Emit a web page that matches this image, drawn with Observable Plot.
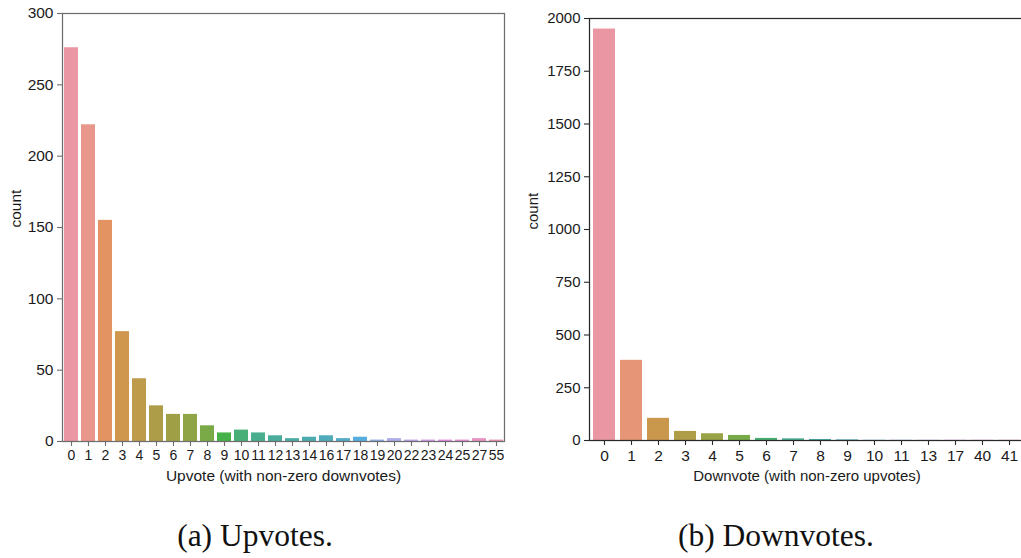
<!DOCTYPE html>
<html>
<head>
<meta charset="utf-8">
<script src="https://cdn.jsdelivr.net/npm/d3@7"></script>
<script src="https://cdn.jsdelivr.net/npm/@observablehq/plot@0.6"></script>
<style>
  html, body { margin: 0; padding: 0; background: #fff; }
  body { width: 1021px; height: 558px; overflow: hidden; position: relative; }
  .panel { position: absolute; top: 0; width: 520px; height: 500px; }
  .panel svg { max-width: none !important; }
  .cap { position: absolute; font-family: "Liberation Serif", "Times New Roman", serif; font-size: 31.5px; color: #111; white-space: nowrap; transform: translate(-50%, -50%); }
</style>
</head>
<body>
<div id="left" class="panel" style="left:0px"></div>
<div id="right" class="panel" style="left:520px"></div>
<div class="cap" style="left:255px; top:536px">(a) Upvotes.</div>
<div class="cap" style="left:776px; top:536px">(b) Downvotes.</div>
<script>
// ---------- data ----------
const upCategories = ["0","1","2","3","4","5","6","7","8","9","10","11","12","13","14","16","17","18","19","20","22","23","24","25","27","55"];
const upCounts     = [276, 222, 155, 77, 44, 25, 19, 19, 11, 6, 8, 6, 4, 2, 3, 4, 2, 3, 1, 2, 1, 1, 1, 1, 2, 1];
const upTicks      = [0, 50, 100, 150, 200, 250, 300];

const downCategories = ["0","1","2","3","4","5","6","7","8","9","10","11","13","17","40","41"];
const downCounts     = [1950, 380, 105, 43, 32, 24, 10, 8, 5, 3, 1, 1, 1, 1, 1, 1];
const downTicks      = [0, 250, 500, 750, 1000, 1250, 1500, 1750, 2000];

// ---------- seaborn husl palette (h=.01, s=.9, l=.7), desaturated 0.75 ----------
const M = [[3.2406, -1.5372, -0.4986], [-0.9689, 1.8758, 0.0415], [0.0557, -0.2040, 1.0570]];
const refY = 1.0, refU = 0.19783000664283, refV = 0.46831999493879;
const kappa = 903.2962962, epsilon = 0.0088564516;
function maxChroma(L, H) {
  const hrad = H / 360 * 2 * Math.PI, sinH = Math.sin(hrad), cosH = Math.cos(hrad);
  const sub1 = Math.pow(L + 16, 3) / 1560896;
  const sub2 = sub1 > epsilon ? sub1 : L / kappa;
  let result = Infinity;
  for (const [m1, m2, m3] of M) {
    const top = (0.99915 * m1 + 1.05122 * m2 + 1.14460 * m3) * sub2;
    const rb = 0.86330 * m3 - 0.17266 * m2;
    const lb = 0.12949 * m3 - 0.38848 * m1;
    const bottom = (rb * sinH + lb * cosH) * sub2;
    for (const t of [0, 1]) {
      const C = L * (top - 1.05122 * t) / (bottom + 0.17266 * sinH * t);
      if (C > 0 && C < result) result = C;
    }
  }
  return result;
}
function huslToRgb(H, S, L) {
  const C = maxChroma(L, H) / 100 * S;
  const hrad = H / 360 * 2 * Math.PI;
  const U = Math.cos(hrad) * C, V = Math.sin(hrad) * C;
  const t = (L + 16) / 116;
  const varY = Math.pow(t, 3) > epsilon ? Math.pow(t, 3) : (116 * t - 16) / kappa;
  const varU = U / (13 * L) + refU, varV = V / (13 * L) + refV;
  const Y = varY * refY;
  const X = 0 - (9 * Y * varU) / ((varU - 4) * varV - varU * varV);
  const Z = (9 * Y - 15 * varV * Y - varV * X) / (3 * varV);
  const lin = M.map(r => r[0] * X + r[1] * Y + r[2] * Z);
  return lin.map(c => {
    const v = c <= 0.0031308 ? 12.92 * c : 1.055 * Math.pow(c, 1 / 2.4) - 0.055;
    return Math.max(0, Math.min(1, v));
  });
}
function palette(n) {
  const out = [];
  for (let i = 0; i < n; i++) {
    const h = ((i / n + 0.01) % 1) * 359;
    const [r, g, b] = huslToRgb(h, 0.9 * 99, 0.7 * 99);
    const c = d3.hsl(d3.rgb(r * 255, g * 255, b * 255));
    c.s *= 0.75;
    out.push(c.formatHex());
  }
  return out;
}

const FONT = "'Liberation Sans', Arial, sans-serif";

function chart({cats, counts, ticks, maxY, xLabel, marginLeft, marginTop, marginBottom, width, marginRight, spine, xFont, yFont, labelFont, yLabelDx, xLabelDy}) {
  const data = cats.map((c, i) => ({cat: c, count: counts[i]}));
  const colors = palette(cats.length);
  return Plot.plot({
    width, height: 500,
    marginLeft, marginRight, marginTop, marginBottom,
    style: {fontFamily: FONT, background: "white", overflow: "visible", maxWidth: "none"},
    x: {type: "band", domain: cats, paddingInner: 0.2, paddingOuter: 0.1},
    y: {domain: [0, maxY]},
    color: {type: "ordinal", domain: cats, range: colors},
    marks: [
      Plot.barY(data, {x: "cat", y: "count", fill: "cat"}),
      Plot.frame({stroke: spine, strokeWidth: 1.25}),
      Plot.axisY({ticks, tickFormat: d3.format("d"), tickSize: 5, tickPadding: 4, fontSize: yFont, stroke: spine, strokeWidth: 1.1, fill: "#1a1a1a", label: null}),
      Plot.axisX({tickSize: 5, tickPadding: 4, fontSize: xFont, stroke: spine, strokeWidth: 1.1, fill: "#1a1a1a", label: null}),
      Plot.text([xLabel], {frameAnchor: "bottom", dy: xLabelDy, text: d => d, fontSize: labelFont, fill: "#1a1a1a", lineAnchor: "middle"}),
      Plot.text(["count"], {frameAnchor: "left", dx: yLabelDx, rotate: -90, text: d => d, fontSize: labelFont, fill: "#1a1a1a"})
    ]
  });
}

document.getElementById("left").append(chart({
  cats: upCategories, counts: upCounts, ticks: upTicks, maxY: 300,
  xLabel: "Upvote (with non-zero downvotes)",
  width: 520, marginLeft: 62, marginRight: 16, marginTop: 13, marginBottom: 59,
  spine: "#6e6e6e", xFont: 14, yFont: 15.5, labelFont: 15.5, yLabelDx: -46, xLabelDy: 35
}));
document.getElementById("right").append(chart({
  cats: downCategories, counts: downCounts, ticks: downTicks, maxY: 2000,
  xLabel: "Downvote (with non-zero upvotes)",
  width: 520, marginLeft: 69, marginRight: 16, marginTop: 18, marginBottom: 60,
  spine: "#2a2a2a", xFont: 15.5, yFont: 15, labelFont: 15, yLabelDx: -56, xLabelDy: 36
}));
</script>
</body>
</html>
